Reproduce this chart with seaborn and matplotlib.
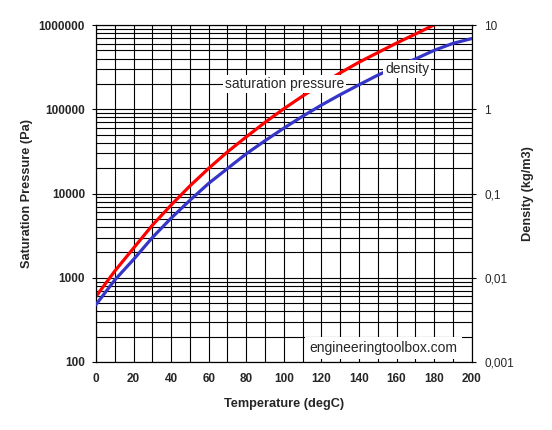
import matplotlib
matplotlib.use("Agg")
import matplotlib.pyplot as plt
import seaborn as sns
from matplotlib.ticker import FixedLocator, FixedFormatter, NullFormatter

# --- Data (water at saturation) ---
temperature = [0, 10, 20, 30, 40, 50, 60, 70, 80, 90, 100,
               110, 120, 130, 140, 150, 160, 170, 180, 190, 200]
pressure = [600, 1200, 2250, 4200, 7300, 12300, 19900, 31200, 47000, 70000, 101400,
            143400, 198700, 270300, 361500, 470000, 610000, 780000, 1002800, 1254400, 1553800]
density = [0.0048, 0.0094, 0.0165, 0.0300, 0.0510, 0.0831, 0.1320, 0.198, 0.296, 0.4235, 0.597,
           0.826, 1.12, 1.49, 1.95, 2.54, 3.20, 3.95, 5.0, 6.05, 6.9]

p_ticks = [100, 1000, 10000, 100000, 1000000]
p_labels = ["100", "1000", "10000", "100000", "1000000"]
d_ticks = [0.001, 0.01, 0.1, 1, 10]
d_labels = ["0,001", "0,01", "0,1", "1", "10"]
t_ticks = list(range(0, 201, 20))

sns.set_style("white")
plt.rcParams["font.family"] = ["Liberation Sans", "DejaVu Sans"]

W, H = 552, 430
fig = plt.figure(figsize=(W / 100, H / 100), dpi=100)
x0, x1, y0, y1 = 96, 471.7, 25, 362
ax = fig.add_axes([x0 / W, 1 - y1 / H, (x1 - x0) / W, (y1 - y0) / H])
ax2 = ax.twinx()

# --- Curves ---
sns.lineplot(x=temperature, y=pressure, ax=ax, color="#FF0000", lw=2.3, zorder=3)
sns.lineplot(x=temperature, y=density, ax=ax2, color="#3535C8", lw=2.3, zorder=3)

ax.set_yscale("log")
ax2.set_yscale("log")
ax.set_xlim(0, 200)
ax.set_ylim(100, 1e6)
ax2.set_ylim(0.001, 10)

# --- Grid ---
minor_p = [m * 10 ** e for e in range(2, 6) for m in range(2, 10)]
ax.yaxis.set_major_locator(FixedLocator(p_ticks))
ax.yaxis.set_major_formatter(FixedFormatter(p_labels))
ax.yaxis.set_minor_locator(FixedLocator(minor_p))
ax.yaxis.set_minor_formatter(NullFormatter())
ax.xaxis.set_major_locator(FixedLocator(t_ticks))
ax.xaxis.set_minor_locator(FixedLocator(list(range(10, 200, 20))))
ax.set_axisbelow(True)
ax.grid(which="both", axis="both", color="black", lw=0.8)

ax2.yaxis.set_major_locator(FixedLocator(d_ticks))
ax2.yaxis.set_major_formatter(FixedFormatter(d_labels))
ax2.yaxis.set_minor_locator(FixedLocator([]))
ax2.grid(False)

ax.tick_params(which="major", direction="out", length=3, width=0.8, color="black",
               labelsize=8.5, pad=5)
ax.tick_params(which="minor", length=0)
ax2.tick_params(which="major", direction="out", length=3, width=0.8, color="black",
                labelsize=8.5, pad=6)
for lab in ax.get_xticklabels() + ax.get_yticklabels():
    lab.set_fontweight("bold")

for a in (ax, ax2):
    for s in a.spines.values():
        s.set_color("black")
        s.set_linewidth(0.8)

ax.set_xlabel("Temperature (degC)", fontsize=9.2, fontweight="bold", labelpad=9)
ax.set_ylabel("Saturation Pressure (Pa)", fontsize=9.2, fontweight="bold", labelpad=4)
ax2.set_ylabel("Density (kg/m3)", fontsize=9.2, fontweight="bold", labelpad=6)

# --- In-plot labels ---
box = dict(facecolor="white", edgecolor="none", pad=1.5)
ax.text(100.3, 2e5, "saturation pressure", fontsize=10, ha="center", va="center",
        bbox=box, zorder=5)
ax2.text(165.7, 3, "density", fontsize=10, ha="center", va="center",
         bbox=box, zorder=5)
ax2.text(153, 0.00146, "engineeringtoolbox.com", fontsize=10, ha="center", va="center",
         bbox=dict(facecolor="white", edgecolor="none", pad=3), zorder=5)

fig.savefig("out.png", dpi=100)
